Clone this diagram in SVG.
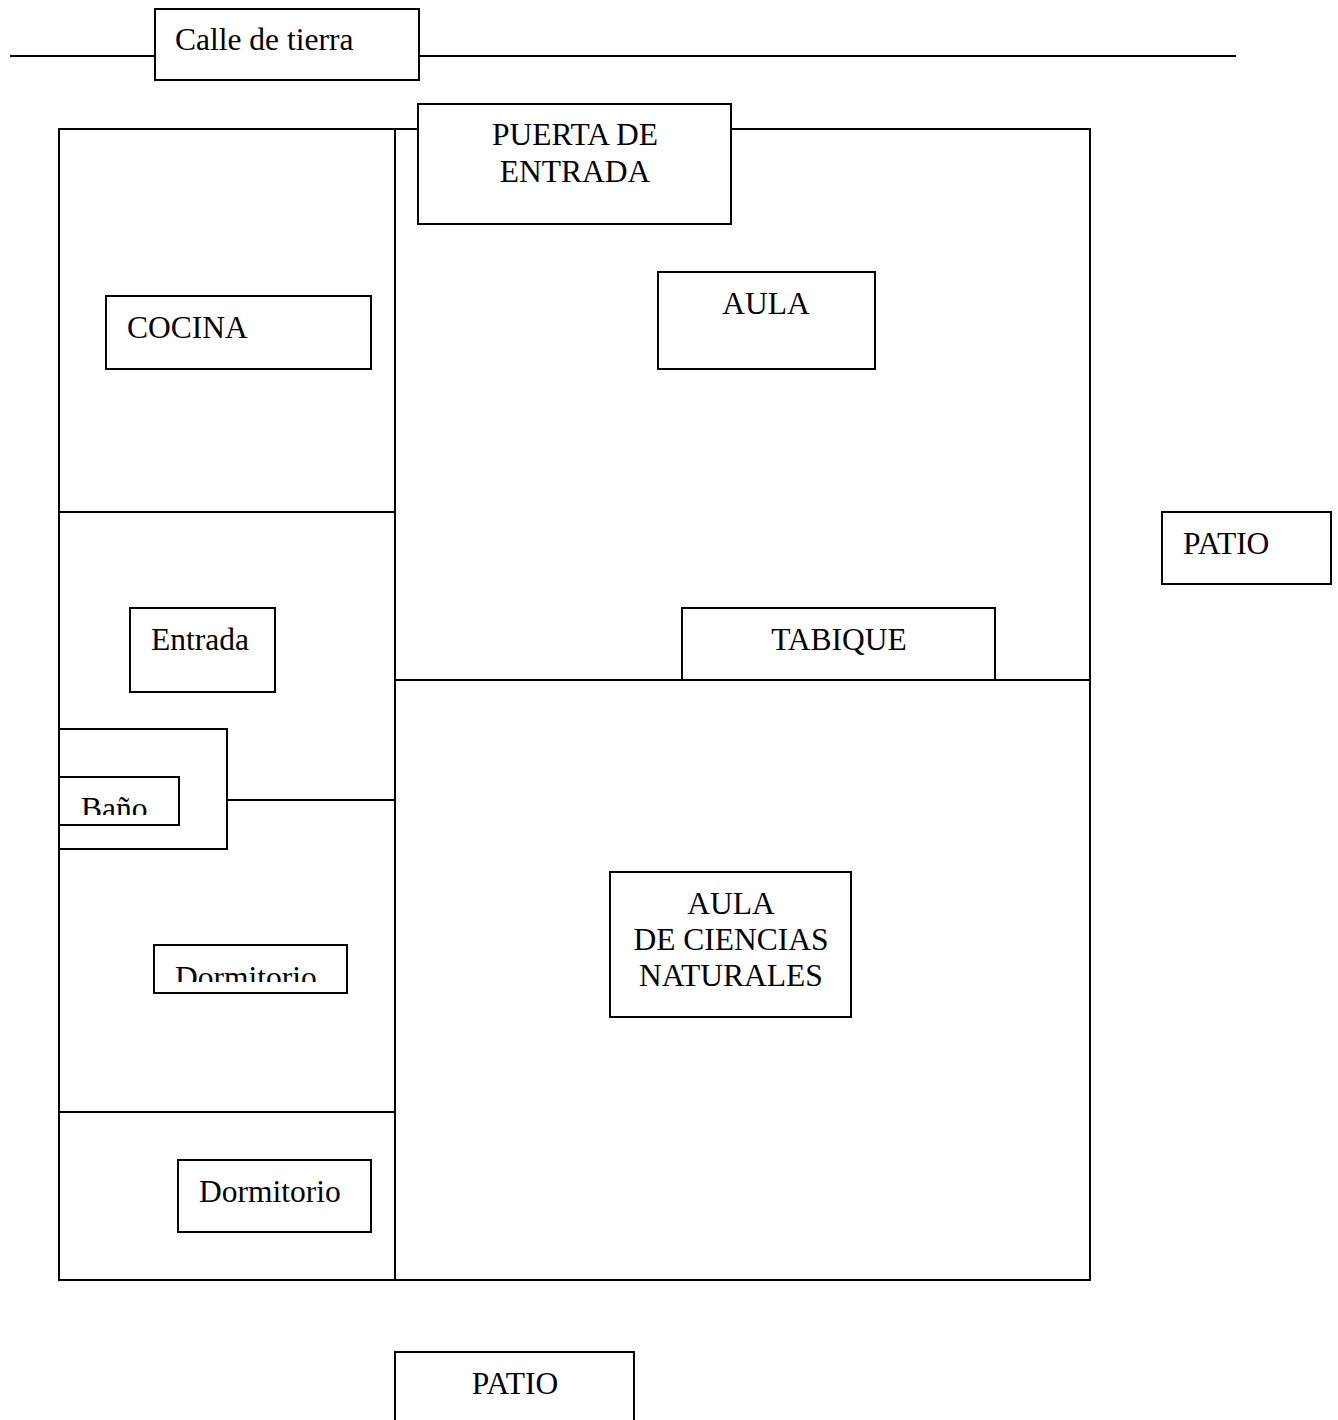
<svg xmlns="http://www.w3.org/2000/svg" width="1338" height="1420" viewBox="0 0 1338 1420">
<style>
.b{fill:#fff;stroke:#000;stroke-width:2}
.l{stroke:#000;stroke-width:2;fill:none}
text{font-family:"Liberation Serif","Times New Roman",serif;font-size:31.5px;fill:#000}
.c{text-anchor:middle}
</style>
<defs>
<clipPath id="cpBano"><rect x="59" y="777" width="120" height="38"/></clipPath>
<clipPath id="cpDorm"><rect x="154" y="945" width="193" height="37"/></clipPath>
</defs>
<rect width="1338" height="1420" fill="#fff"/>
<g id="connectors">
<line class="l" x1="10" y1="56" x2="1236" y2="56"/>
<rect class="l" x="59" y="129" width="1031" height="1151"/>
<line class="l" x1="395" y1="129" x2="395" y2="1280"/>
<line class="l" x1="59" y1="512" x2="395" y2="512"/>
<line class="l" x1="395" y1="680" x2="1090" y2="680"/>
<line class="l" x1="227" y1="800" x2="395" y2="800"/>
<line class="l" x1="59" y1="1112" x2="395" y2="1112"/>
</g>
<g id="calle"><rect class="b" x="155" y="9" width="264" height="71"/><text x="175" y="50">Calle de tierra</text></g>
<g id="puerta"><rect class="b" x="418" y="104" width="313" height="120"/><text class="c" x="575" y="145">PUERTA DE</text><text class="c" x="575" y="182">ENTRADA</text></g>
<g id="cocina"><rect class="b" x="106" y="296" width="265" height="73"/><text x="127" y="338">COCINA</text></g>
<g id="aula"><rect class="b" x="658" y="272" width="217" height="97"/><text class="c" x="766" y="314">AULA</text></g>
<g id="entrada"><rect class="b" x="130" y="608" width="145" height="84"/><text x="151" y="650">Entrada</text></g>
<g id="tabique"><rect class="b" x="682" y="608" width="313" height="72"/><text class="c" x="839" y="650">TABIQUE</text></g>
<g id="patio-derecha"><rect class="b" x="1162" y="512" width="169" height="72"/><text x="1183" y="554">PATIO</text></g>
<g id="bano"><rect class="b" x="59" y="729" width="168" height="120"/><rect class="b" x="59" y="777" width="120" height="48"/><text x="81" y="819" clip-path="url(#cpBano)">Baño</text></g>
<g id="dormitorio1"><rect class="b" x="154" y="945" width="193" height="48"/><text x="175" y="988" clip-path="url(#cpDorm)">Dormitorio</text></g>
<g id="aula-ciencias"><rect class="b" x="610" y="872" width="241" height="145"/><text class="c" x="731" y="914">AULA</text><text class="c" x="731" y="950">DE CIENCIAS</text><text class="c" x="731" y="986">NATURALES</text></g>
<g id="dormitorio2"><rect class="b" x="178" y="1160" width="193" height="72"/><text x="199" y="1202">Dormitorio</text></g>
<g id="patio-abajo"><rect class="b" x="395" y="1352" width="239" height="90"/><text class="c" x="515" y="1394">PATIO</text></g>
</svg>
